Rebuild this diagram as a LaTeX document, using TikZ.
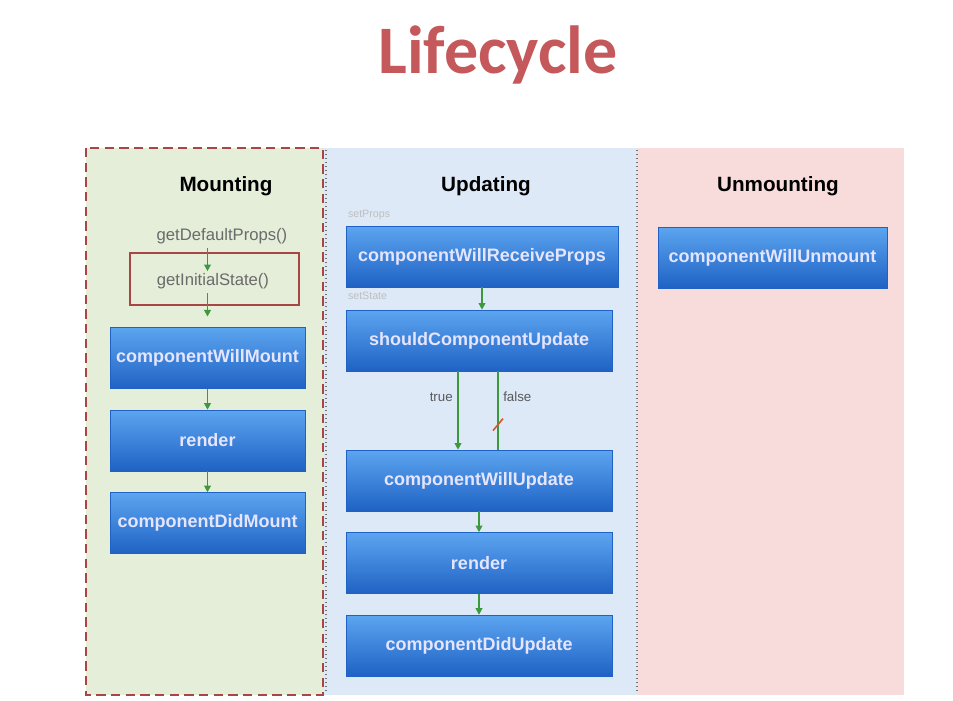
\documentclass[tikz,border=0pt]{standalone}
\usepackage{fontspec}
\setmainfont{Liberation Sans}
\newfontfamily\titlefont{Carlito}
\usetikzlibrary{positioning,arrows.meta}

\definecolor{titlered}{HTML}{C4585A}
\definecolor{mountbg}{HTML}{E4EED9}
\definecolor{updatebg}{HTML}{DDE9F7}
\definecolor{unmountbg}{HTML}{F8DCDB}
\definecolor{boxtop}{HTML}{5CA5F0}
\definecolor{boxbot}{HTML}{1F62C4}
\definecolor{flowgreen}{HTML}{3C9A3C}
\definecolor{borderred}{HTML}{A84646}
\definecolor{cutred}{HTML}{D9542C}

\begin{document}
\begin{tikzpicture}[x=0.75pt,y=-0.75pt,>={Triangle[length=5pt,width=5pt]},
  node distance=15.75pt,
  stage node/.style={rectangle,top color=boxtop,bottom color=boxbot,draw=boxbot,
    line width=0.4pt,text=white!90!blue,font=\bfseries\fontsize{13.5}{15}\selectfont,
    minimum height=45.75pt},
  mount node/.style={stage node,minimum width=146.25pt},
  update node/.style={stage node,minimum width=199.5pt},
  head node/.style={font=\bfseries\fontsize{15.5}{18}\selectfont},
  call node/.style={text=black!58,font=\fontsize{12.5}{14}\selectfont},
  note node/.style={text=black!25,font=\fontsize{8}{9}\selectfont,inner sep=1.5pt},
  flow/.style={->,flowgreen,line width=1.2pt}]

  \useasboundingbox[fill=white] (0,0) rectangle (953,700);

  % column backgrounds
  \fill[mountbg] (86,148) rectangle (323,695);
  \fill[updatebg] (323,148) rectangle (637,695);
  \fill[unmountbg] (637,148) rectangle (904,695);
  \draw[black!55,dotted,line width=1pt] (326,150) -- (326,693);
  \draw[black!55,dotted,line width=1pt] (637,150) -- (637,693);
  \draw[borderred,dash pattern=on 7pt off 4pt,line width=1.2pt] (86,148) rectangle (323,695);

  \node[text=titlered,font=\titlefont\bfseries\fontsize{51}{58}\selectfont] (title) at (498,55) {Lifecycle};

  \node[head node] (mounthead) at (226,186) {Mounting};
  \node[head node] (updatehead) at (486,186) {Updating};
  \node[head node] (unmounthead) at (778,186) {Unmounting};

  % mounting
  \node[call node] (defprops) at (222,236) {getDefaultProps()};
  \node[call node] (initstate) at (213,281) {getInitialState()};
  \node[draw=borderred,line width=1.2pt,minimum width=126.75pt,minimum height=39pt] (initframe) at (214.5,279) {};
  \node[mount node] (cwm) at (207.5,358) {componentWillMount};
  \node[mount node,below=of cwm] (mrender) {render};
  \node[mount node,below=of mrender] (cdm) {componentDidMount};

  \draw[flow] (defprops.south -| cwm.north) -- ([yshift=-2pt]initstate.north -| cwm.north);
  \draw[flow] (initstate.south -| cwm.north) -- ([yshift=8pt]cwm.north);
  \draw[flow] (cwm) -- (mrender);
  \draw[flow] (mrender) -- (cdm);

  % updating
  \node[stage node,minimum width=204pt] (cwrp) at (482,256.5) {componentWillReceiveProps};
  \node[update node] (scu) at (479,340.5) {shouldComponentUpdate};
  \node[update node] (cwu) at (479,480.5) {componentWillUpdate};
  \node[update node,below=of cwu] (urender) {render};
  \node[update node,below=of urender] (cdu) {componentDidUpdate};
  \node[note node,anchor=south west] (setprops) at ([yshift=3pt]cwrp.north west) {setProps};
  \node[note node,anchor=north west] (setstate) at ([yshift=-2pt]cwrp.south west) {setState};

  \draw[flow] (cwrp.south) -- (cwrp.south |- scu.north);
  \draw[flow] ([xshift=-15.75pt]scu.south) -- node[pos=0.33,left,text=black!65,font=\fontsize{10}{12}\selectfont] {true} ([xshift=-15.75pt]cwu.north);
  \draw[flowgreen,line width=1.2pt] ([xshift=14.25pt]scu.south) -- node[pos=0.33,right,text=black!65,font=\fontsize{10}{12}\selectfont] {false} coordinate[pos=0.68] (cut) ([xshift=14.25pt]cwu.north);
  \draw[cutred,line width=1.2pt] ([shift={(-5,6)}]cut) -- ([shift={(5,-6)}]cut);
  \draw[flow] (cwu) -- (urender);
  \draw[flow] (urender) -- (cdu);

  % unmounting
  \node[stage node,minimum width=171.75pt] (cwun) at (772.5,257.5) {componentWillUnmount};

\end{tikzpicture}
\end{document}
